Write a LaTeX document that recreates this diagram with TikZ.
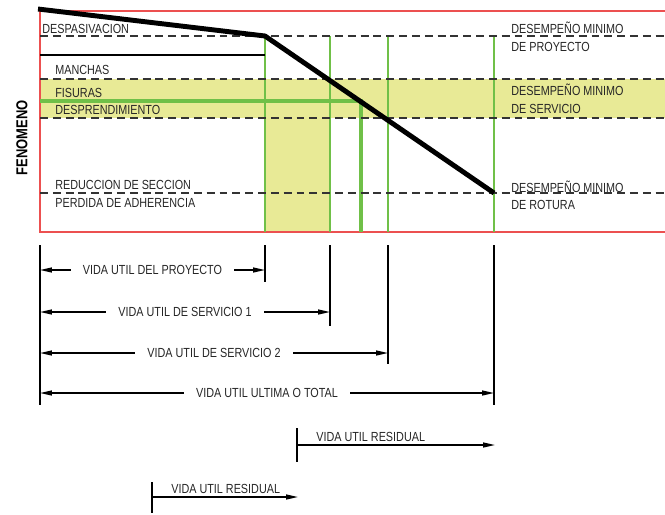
\documentclass[tikz,border=0pt]{standalone}
\usepackage{fontspec}
\setmainfont[FakeStretch=0.82]{Liberation Sans}
\usetikzlibrary{arrows.meta,positioning}
\definecolor{bandyellow}{RGB}{232,234,150}
\definecolor{limegreen}{RGB}{112,192,72}
\definecolor{framered}{RGB}{236,80,80}

\begin{document}
\begin{tikzpicture}[
    x=0.02cm, y=-0.02cm,
    font=\fontsize{7.5}{9}\selectfont,
    phenlabel/.style={anchor=base west, inner sep=0pt, text=black!85},
    limit/.style={draw=black!80, line width=0.7pt, dash pattern=on 4.5pt off 2.8pt},
    greenline/.style={draw=limegreen, line width=0.7pt},
    endmark/.style={line width=0.9pt},
    period/.style={{Triangle[length=2.4mm,width=1mm]}-{Triangle[length=2.4mm,width=1mm]}, line width=0.8pt},
    residual/.style={-{Triangle[length=2.4mm,width=1mm]}, line width=0.8pt},
    gap/.style={fill=white, inner xsep=0.24cm, inner ysep=1pt, text=black!85}
]
\useasboundingbox (0,0) rectangle (665,514);

% bands of the service limit
\fill[bandyellow] (40,79) rectangle (665,118);
\fill[bandyellow] (265,118) rectangle (330,232);

% frame
\draw[framered, line width=0.8pt] (665,11) -- (40,11) -- (40,232) -- (665,232);

% time limits
\foreach \x in {265,330,388,494}
    \draw[greenline] (\x,36) -- (\x,232);
\draw[limegreen, line width=2pt] (40,101) -- (361,101) -- (361,232);

% performance limits
\foreach \y in {36,79,118,193}
    \draw[limit] (40,\y) -- (665,\y);
\draw[line width=0.6pt] (40,55) -- (265,55);

% performance curve
\coordinate (pA) at (38,9);
\coordinate (pB) at (265,36);
\coordinate (pC) at (494,193);
\draw[line width=2.8pt, line join=round] (pA) -- (pB) -- (pC);

% phenomena
\node[rotate=90, font=\bfseries\fontsize{9}{10}\selectfont] (fen) at (22,138) {FENOMENO};
\node[phenlabel] (f1) at (42,33) {DESPASIVACION};
\node[phenlabel] (f2) at (55,74) {MANCHAS};
\node[phenlabel] (f3) at (55,97) {FISURAS};
\node[phenlabel] (f4) at (55,114) {DESPRENDIMIENTO};
\node[phenlabel] (f5) at (55,189) {REDUCCION DE SECCION};
\node[phenlabel] (f6) at (55,207) {PERDIDA DE ADHERENCIA};

% minimum performance
\node[phenlabel] (m1) at (511,33) {DESEMPEÑO MINIMO};
\node[phenlabel] (m1b) at (511,51) {DE PROYECTO};
\node[phenlabel] (m2) at (511,95) {DESEMPEÑO MINIMO};
\node[phenlabel] (m2b) at (511,113) {DE SERVICIO};
\node[phenlabel] (m3) at (511,192) {DESEMPEÑO MINIMO};
\node[phenlabel] (m3b) at (511,209) {DE ROTURA};

% service life
\coordinate (t0) at (40,245);
\coordinate (t1) at (265,245);
\coordinate (t2) at (330,245);
\coordinate (t3) at (388,245);
\coordinate (t4) at (494,245);

\draw[endmark] (t0) -- ++(0,160);
\draw[endmark] (t1) -- ++(0,37);
\draw[endmark] (t2) -- ++(0,81);
\draw[endmark] (t3) -- ++(0,119);
\draw[endmark] (t4) -- ++(0,160);

\draw[period] (t0 |- 0,270) -- node[gap] {VIDA UTIL DEL PROYECTO} (t1 |- 0,270);
\draw[period] (t0 |- 0,312) -- node[gap] {VIDA UTIL DE SERVICIO 1} (t2 |- 0,312);
\draw[period] (t0 |- 0,353) -- node[gap] {VIDA UTIL DE SERVICIO 2} (t3 |- 0,353);
\draw[period] (t0 |- 0,393) -- node[gap] {VIDA UTIL ULTIMA O TOTAL} (t4 |- 0,393);

% residual life
\coordinate (r1) at (297,445);
\coordinate (r1e) at (495,445);
\draw[endmark] (r1) ++(0,-17) -- ++(0,34);
\draw[residual] (r1) -- (r1e);
\node[phenlabel] (res1) at (316,441) {VIDA UTIL RESIDUAL};

\coordinate (r2) at (152,497);
\coordinate (r2e) at (298,497);
\draw[endmark] (r2) ++(0,-15) -- ++(0,31);
\draw[residual] (r2) -- (r2e);
\node[phenlabel] (res2) at (171,493) {VIDA UTIL RESIDUAL};

\end{tikzpicture}
\end{document}
